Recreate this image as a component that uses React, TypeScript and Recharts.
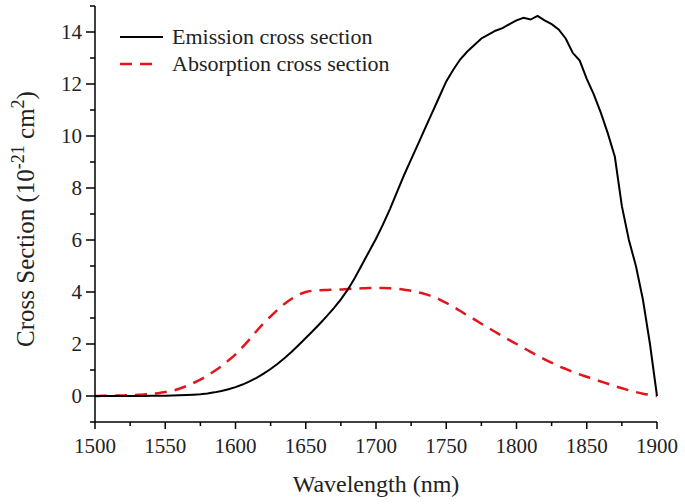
import { LineChart, Line, XAxis, YAxis, Legend } from "recharts";

// wavelength grid (nm) and cross sections (10^-21 cm^2)
const wavelengths = [
  1500, 1505, 1510, 1515, 1520, 1525, 1530, 1535, 1540, 1545, 1550, 1555, 1560, 1565, 1570, 1575, 1580,
  1585, 1590, 1595, 1600, 1605, 1610, 1615, 1620, 1625, 1630, 1635, 1640, 1645, 1650, 1655, 1660, 1665,
  1670, 1675, 1680, 1685, 1690, 1695, 1700, 1705, 1710, 1715, 1720, 1725, 1730, 1735, 1740, 1745, 1750,
  1755, 1760, 1765, 1770, 1775, 1780, 1785, 1790, 1795, 1800, 1805, 1810, 1815, 1820, 1825, 1830, 1835,
  1840, 1845, 1850, 1855, 1860, 1865, 1870, 1875, 1880, 1885, 1890, 1895, 1900,
];

const emission = [
  0, 0, 0, 0, 0, 0, 0, 0, 0.005, 0.01, 0.012, 0.018, 0.025, 0.035, 0.05, 0.07, 0.1,
  0.14, 0.19, 0.26, 0.34, 0.44, 0.56, 0.7, 0.86, 1.04, 1.24, 1.46, 1.7, 1.96, 2.23, 2.5, 2.78, 3.07,
  3.38, 3.72, 4.1, 4.55, 5.05, 5.55, 6.05, 6.6, 7.2, 7.85, 8.5, 9.1, 9.7, 10.3, 10.9, 11.5, 12.1,
  12.55, 12.95, 13.25, 13.5, 13.75, 13.9, 14.05, 14.15, 14.3, 14.45, 14.55, 14.48, 14.62, 14.45, 14.3, 14.1, 13.75,
  13.2, 12.9, 12.2, 11.6, 10.9, 10.1, 9.2, 7.3, 6.0, 5.0, 3.7, 2.0, 0,
];

const absorption = [
  0, 0.005, 0.01, 0.015, 0.02, 0.03, 0.045, 0.06, 0.08, 0.11, 0.15, 0.2, 0.28, 0.38, 0.5, 0.63, 0.78,
  0.96, 1.15, 1.37, 1.6, 1.88, 2.18, 2.5, 2.8, 3.06, 3.32, 3.55, 3.74, 3.9, 4.0, 4.05, 4.07, 4.08,
  4.09, 4.1, 4.12, 4.13, 4.14, 4.15, 4.15, 4.15, 4.14, 4.12, 4.09, 4.05, 3.99, 3.92, 3.83, 3.72, 3.58,
  3.43, 3.27, 3.1, 2.95, 2.78, 2.62, 2.46, 2.3, 2.15, 2.0, 1.85, 1.7, 1.55, 1.41, 1.28, 1.15, 1.04,
  0.93, 0.83, 0.74, 0.65, 0.56, 0.47, 0.38, 0.3, 0.22, 0.15, 0.09, 0.04, 0,
];

const xTicks = [1500, 1525, 1550, 1575, 1600, 1625, 1650, 1675, 1700, 1725, 1750, 1775, 1800, 1825, 1850, 1875, 1900];
const yTicks = [-1, 0, 1, 2, 3, 4, 5, 6, 7, 8, 9, 10, 11, 12, 13, 14, 15];

const data = wavelengths.map((w, i) => ({ w, emission: emission[i], absorption: absorption[i] }));

const FONT = "'Liberation Serif', 'Times New Roman', serif";
const RED = "#e3151c";

function XTick({ x, y, payload }: any) {
  const major = payload.value % 50 === 0;
  return (
    <g>
      <line x1={x} x2={x} y1={y} y2={y + (major ? 7 : 4)} stroke="#000" strokeWidth={1.5} />
      {major && (
        <text x={x} y={y + 31} textAnchor="middle" fontFamily={FONT} fontSize={21} fill="#222">
          {payload.value}
        </text>
      )}
    </g>
  );
}

function YTick({ x, y, payload }: any) {
  const v = payload.value;
  const major = v % 2 === 0;
  return (
    <g>
      <line x1={x} x2={x - (major ? 9 : 5)} y1={y} y2={y} stroke="#000" strokeWidth={1.5} />
      {major && (
        <text x={x - 13} y={y + 7} textAnchor="end" fontFamily={FONT} fontSize={21} fill="#222">
          {v}
        </text>
      )}
    </g>
  );
}

function XLabel({ viewBox }: any) {
  return (
    <text x={viewBox.x + viewBox.width / 2} y={viewBox.y + 70} textAnchor="middle" fontFamily={FONT} fontSize={24} fill="#222">
      Wavelength (nm)
    </text>
  );
}

function YLabel({ viewBox }: any) {
  const cx = viewBox.x - 1;
  const cy = viewBox.y + viewBox.height / 2 + 5;
  return (
    <text
      x={cx}
      y={cy}
      transform={`rotate(-90, ${cx}, ${cy})`}
      textAnchor="middle"
      fontFamily={FONT}
      fontSize={25}
      fill="#222"
    >
      Cross Section (10
      <tspan dy={-10} fontSize={18}>-21</tspan>
      <tspan dy={10}> cm</tspan>
      <tspan dy={-10} fontSize={18}>2</tspan>
      <tspan dy={10}>)</tspan>
    </text>
  );
}

function LegendBox() {
  const row = { display: "flex", alignItems: "center", height: 27, whiteSpace: "nowrap" as const };
  return (
    <div style={{ fontFamily: FONT, fontSize: 22, color: "#222" }}>
      <div style={row}>
        <svg width={52} height={10}>
          <line x1={0} x2={43} y1={5} y2={5} stroke="#000" strokeWidth={2} />
        </svg>
        <span>Emission cross section</span>
      </div>
      <div style={row}>
        <svg width={52} height={10}>
          <line x1={0} x2={32} y1={5} y2={5} stroke={RED} strokeWidth={2.5} strokeDasharray="12 8" />
        </svg>
        <span>Absorption cross section</span>
      </div>
    </div>
  );
}

export default function App() {
  return (
    <div style={{ position: "absolute", left: 0, top: 0, background: "#fff" }}>
      <LineChart width={685} height={504} data={data} margin={{ top: 6, right: 28, bottom: 40, left: 35 }}>
        <XAxis
          dataKey="w"
          type="number"
          domain={[1500, 1900]}
          ticks={xTicks}
          interval={0}
          tickSize={0}
          tickMargin={0}
          tick={<XTick />}
          axisLine={{ stroke: "#000", strokeWidth: 1.5 }}
          height={42}
          label={<XLabel />}
        />
        <XAxis xAxisId="top" orientation="top" type="number" domain={[1500, 1900]} dataKey="w" tick={false} tickLine={false} height={0} axisLine={{ stroke: "#000", strokeWidth: 1.5 }} />
        <YAxis
          type="number"
          domain={[-1, 15]}
          ticks={yTicks}
          interval={0}
          tickSize={0}
          tickMargin={0}
          tick={<YTick />}
          axisLine={{ stroke: "#000", strokeWidth: 1.5 }}
          width={60}
          label={<YLabel />}
        />
        <YAxis yAxisId="right" orientation="right" domain={[-1, 15]} tick={false} tickLine={false} width={0} axisLine={{ stroke: "#000", strokeWidth: 1.5 }} />
        <Legend content={<LegendBox />} layout="horizontal" verticalAlign="middle" align="center" wrapperStyle={{ top: 23, left: 120, width: "auto" }} />
        <Line dataKey="absorption" stroke={RED} strokeWidth={2.5} strokeDasharray="12 8" dot={false} isAnimationActive={false} type="monotone" />
        <Line dataKey="emission" stroke="#000" strokeWidth={2} dot={false} isAnimationActive={false} type="linear" />
      </LineChart>
    </div>
  );
}
